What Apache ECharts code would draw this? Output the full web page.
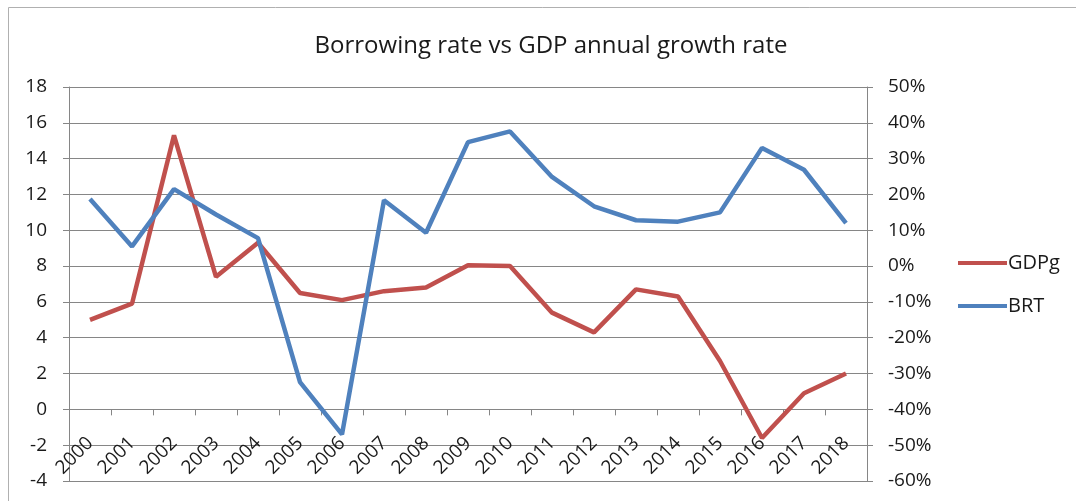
<!DOCTYPE html>
<html>
<head>
<meta charset="utf-8">
<script src="https://cdn.jsdelivr.net/npm/echarts@6/dist/echarts.min.js"></script>
<style>
html,body{margin:0;padding:0;background:#fff;}
#chart{width:1076px;height:501px;}
</style>
</head>
<body>
<div id="chart"></div>
<script>
const years = ['2000','2001','2002','2003','2004','2005','2006','2007','2008','2009','2010','2011','2012','2013','2014','2015','2016','2017','2018'];
const gdpg = [5.0, 5.9, 15.3, 7.4, 9.3, 6.5, 6.1, 6.6, 6.8, 8.05, 8.0, 5.4, 4.3, 6.7, 6.3, 2.7, -1.6, 0.9, 2.0];
const brt = [18.7, 5.5, 21.5, 14.4, 7.8, -32.4, -47.0, 18.4, 9.3, 34.6, 37.6, 24.9, 16.7, 12.8, 12.4, 15.0, 33.0, 26.9, 12.0];
const leftTicks = {min: -4, max: 18, interval: 2};
const rightTicks = {min: -60, max: 50, interval: 10};

const FONT = "'Open Sans', 'Liberation Sans', sans-serif";
const gridColor = '#868686';
const W = 1076, H = 501;
const gridTop = 87, gridBottom = 20;
const plotH = H - gridTop - gridBottom;
// place the category axis where the left scale reads zero (Excel "crosses at 0")
const zeroOffset = -plotH * (0 - leftTicks.min) / (leftTicks.max - leftTicks.min);

const chart = echarts.init(document.getElementById('chart'), null, {renderer: 'canvas'});
chart.setOption({
  backgroundColor: '#fff',
  animation: false,
  graphic: [{
    type: 'rect', shape: {x: 8.5, y: 7.5, width: 1100, height: 520},
    style: {fill: 'none', stroke: '#b0b0b0', lineWidth: 1}, silent: true, z: -10
  }],
  title: {
    text: 'Borrowing rate vs GDP annual growth rate',
    left: 546, textAlign: 'center', top: 29,
    textStyle: {fontFamily: FONT, fontSize: 24, fontWeight: 'normal', color: '#1a1a1a'}
  },
  legend: {
    orient: 'vertical', left: 958, top: 253, itemGap: 23, padding: 0,
    itemWidth: 49, itemHeight: 4, icon: 'rect',
    textStyle: {fontFamily: FONT, fontSize: 20, color: '#1a1a1a', padding: [0,0,0,-4]},
    data: ['GDPg', 'BRT']
  },
  grid: {left: 69, right: 209, top: gridTop, bottom: gridBottom, containLabel: false},
  xAxis: {
    type: 'category', data: years, boundaryGap: true, position: 'bottom', offset: zeroOffset,
    axisLine: {show: true, onZero: false, lineStyle: {color: gridColor, width: 1}},
    axisTick: {show: true, length: 6, lineStyle: {color: gridColor}},
    axisLabel: {rotate: 45, margin: 31, fontFamily: FONT, fontSize: 19, color: '#1a1a1a', interval: 0}
  },
  yAxis: [{
    type: 'value', min: leftTicks.min, max: leftTicks.max, interval: leftTicks.interval,
    axisLine: {show: true, lineStyle: {color: gridColor}},
    axisTick: {show: true, length: 6, lineStyle: {color: gridColor}},
    splitLine: {show: true, lineStyle: {color: gridColor, width: 1}},
    axisLabel: {fontFamily: FONT, fontSize: 19, color: '#1a1a1a', margin: 22}
  }, {
    type: 'value', min: rightTicks.min, max: rightTicks.max, interval: rightTicks.interval,
    position: 'right',
    axisLine: {show: true, lineStyle: {color: gridColor}},
    axisTick: {show: true, length: 6, lineStyle: {color: gridColor}},
    splitLine: {show: false},
    axisLabel: {fontFamily: FONT, fontSize: 19, color: '#1a1a1a', margin: 21, formatter: '{value}%'}
  }],
  series: [{
    name: 'GDPg', type: 'line', yAxisIndex: 0, data: gdpg,
    symbol: 'none', lineStyle: {color: '#C0504D', width: 4.5}, itemStyle: {color: '#C0504D'}
  }, {
    name: 'BRT', type: 'line', yAxisIndex: 1, data: brt,
    symbol: 'none', lineStyle: {color: '#4F81BD', width: 4.5}, itemStyle: {color: '#4F81BD'}
  }]
});
</script>
</body>
</html>
